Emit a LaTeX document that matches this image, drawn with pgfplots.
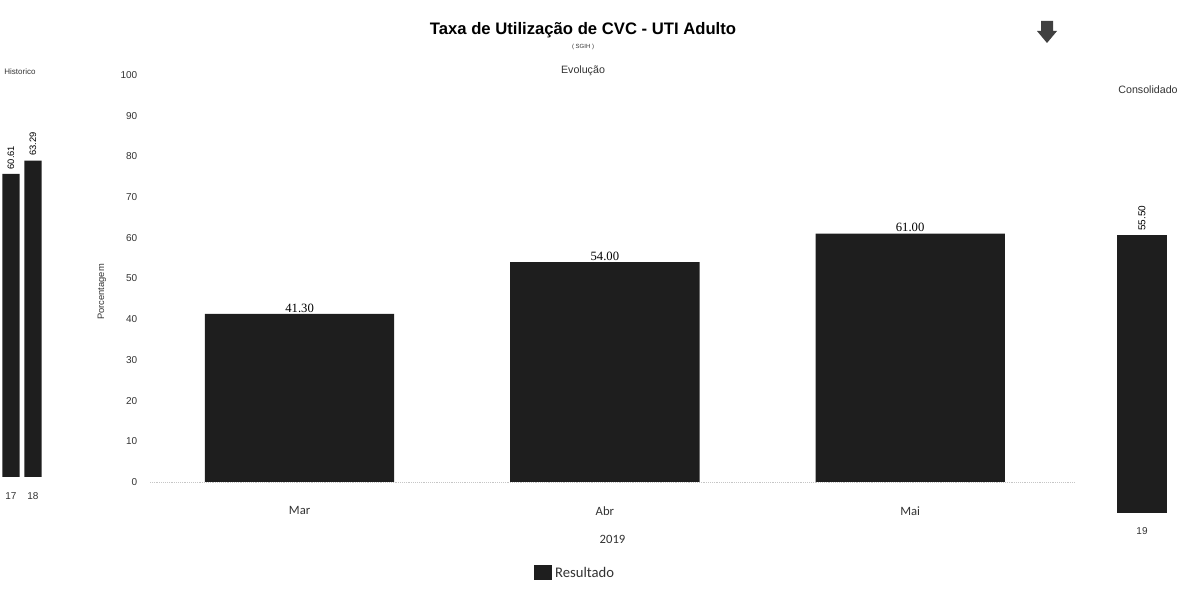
\documentclass[border=0pt]{standalone}
\usepackage{fontspec}
\setmainfont{Liberation Sans}
\newfontfamily\carlito{Carlito}
\newfontfamily\timesf{Liberation Serif}
\usepackage{pgfplots}
\pgfplotsset{compat=1.18}
\definecolor{barc}{HTML}{1E1E1E}
\definecolor{txt}{HTML}{333333}
\begin{document}
\begin{tikzpicture}
\path[use as bounding box] (0pt,0pt) rectangle (890.25pt,453.75pt);
% titles
\node[font=\bfseries\fontsize{12.5}{14}\selectfont] at (437.25pt,431.25pt) {Taxa de Utilização de CVC - UTI Adulto};
\node[font=\fontsize{4.5}{6}\selectfont, text=txt] at (437.25pt,418.5pt) {( SGIH )};
\node[font=\fontsize{8}{9}\selectfont, text=txt] at (437.25pt,400.5pt) {Evolução};
\node[font=\fontsize{6}{7}\selectfont, text=txt] at (15pt,399.75pt) {Historico};
\node[font=\fontsize{8}{9}\selectfont, text=txt] at (861pt,386.25pt) {Consolidado};
% arrow icon
\fill[black!75] (780.75pt,438pt) -- (789.75pt,438pt) -- (789.75pt,430.5pt) -- (792.75pt,430.5pt) -- (785.25pt,421.5pt) -- (777.75pt,430.5pt) -- (780.75pt,430.5pt) -- cycle;

% Historical axis
\begin{axis}[
  at={(0pt,96pt)}, anchor=south west,
  scale only axis, width=33pt, height=375pt,
  xmin=-0.5, xmax=1.5, ymin=0, ymax=100,
  axis lines=none,
  ybar, bar width=0.78, bar shift=0pt,
  clip=false,
  nodes near coords,
  nodes near coords style={rotate=90, anchor=west, font=\fontsize{7}{8}\selectfont, /pgf/number format/.cd, fixed, fixed zerofill, precision=2, assume math mode=true},
]
\addplot[fill=barc, draw=none] coordinates {(0,60.61) (1,63.29)};
\node[font=\fontsize{7.5}{8}\selectfont, text=txt, anchor=north] at (axis cs:0,-2.2) {17};
\node[font=\fontsize{7.5}{8}\selectfont, text=txt, anchor=north] at (axis cs:1,-2.2) {18};
\end{axis}

% Main axis
\begin{axis}[
  at={(112.5pt,92.25pt)}, anchor=south west,
  scale only axis, width=693.75pt, height=305.25pt,
  xmin=-0.49, xmax=2.54, ymin=0, ymax=100,
  axis x line*=bottom, axis y line*=left,
  x axis line style={gray!45, densely dotted, -},
  y axis line style={draw=none},
  major tick length=0pt,
  ytick={0,10,...,100},
  xtick={0,1,2}, xticklabels={Mar,Abr,Mai},
  xticklabel style={font=\carlito\fontsize{9.5}{10}\selectfont, text=txt, yshift=-15pt},
  yticklabel style={font=\fontsize{7.5}{9}\selectfont, text=txt, xshift=-6pt},
  /pgf/number format/assume math mode=true,
  xlabel={2019}, xlabel style={font=\carlito\fontsize{9.5}{10}\selectfont, text=txt, yshift=-8pt},
  ylabel={Porcentagem}, ylabel style={font=\fontsize{7}{8}\selectfont, text=txt, yshift=4pt, xshift=-10pt},
  ybar, bar width=0.62, bar shift=0pt,
  nodes near coords,
  nodes near coords style={font=\timesf\fontsize{9.5}{10}\selectfont, inner sep=1pt, /pgf/number format/.cd, fixed, fixed zerofill, precision=2, assume math mode=true},
  legend style={at={(0.46,-0.195)}, anchor=north, draw=none, font=\carlito\fontsize{11}{12}\selectfont, text=txt},
  legend image code/.code={\fill[barc] (0cm,-0.18cm) rectangle (0.48cm,0.22cm);},
]
\addplot[fill=barc, draw=none] coordinates {(0,41.30) (1,54.00) (2,61.00)};
\addlegendentry{Resultado}
\end{axis}

% Consolidated axis
\begin{axis}[
  at={(837.75pt,69pt)}, anchor=south west,
  scale only axis, width=37.5pt, height=375pt,
  xmin=-0.5, xmax=0.5, ymin=0, ymax=100,
  axis lines=none,
  ybar, bar width=1, bar shift=0pt,
  clip=false,
  nodes near coords,
  nodes near coords style={rotate=90, anchor=west, font=\fontsize{7.5}{8}\selectfont, /pgf/number format/.cd, fixed, fixed zerofill, precision=2, assume math mode=true},
]
\addplot[fill=barc, draw=none] coordinates {(0,55.50)};
\node[font=\fontsize{7.5}{8}\selectfont, text=txt, anchor=north] at (axis cs:0,-2) {19};
\end{axis}
\end{tikzpicture}
\end{document}
